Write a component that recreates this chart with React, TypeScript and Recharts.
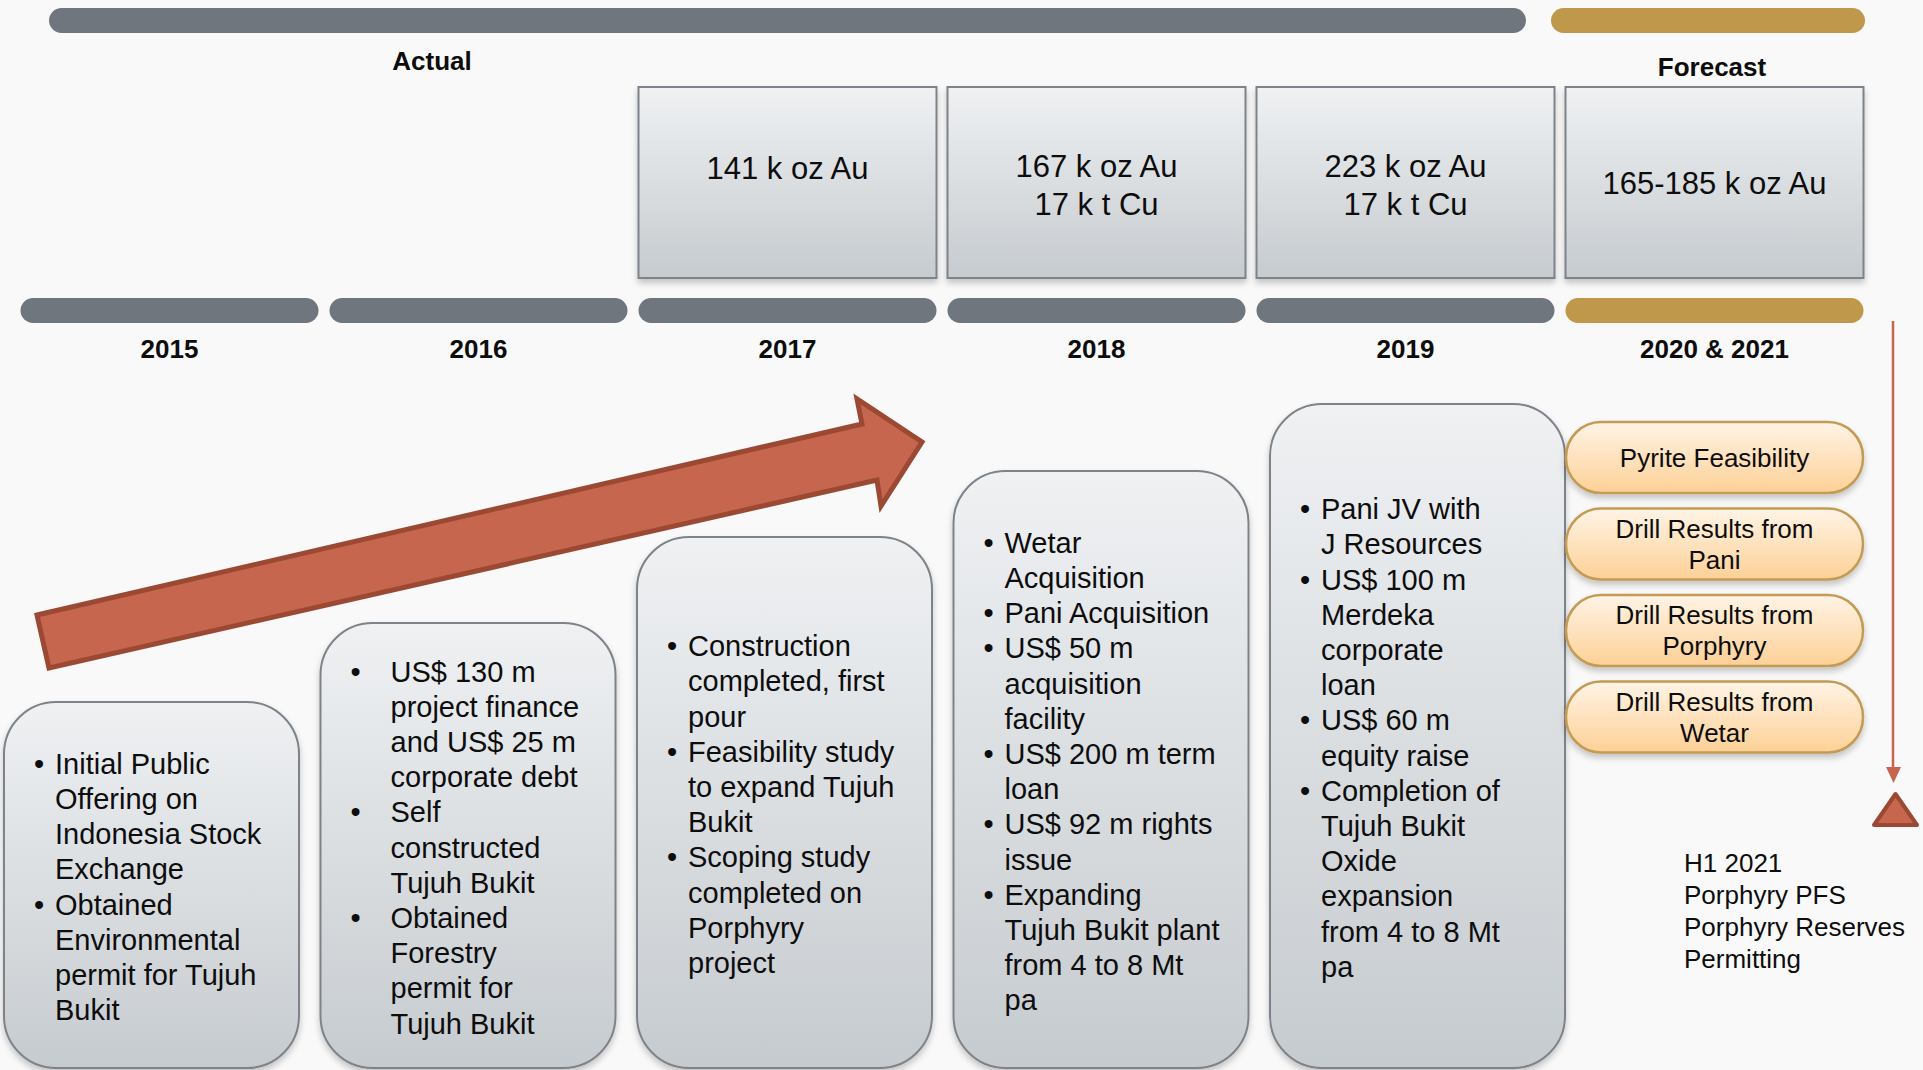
import React from 'react';
import { ComposedChart, Bar, XAxis, YAxis, Customized } from 'recharts';

// timeline columns
const years = ['2015', '2016', '2017', '2018', '2019', '2020 & 2021'];
// production per year (k oz Au / k t Cu)
const goldOz = [null, null, '141', '167', '223', '165-185'];
const copperT = [null, null, null, '17', '17', null];
// milestone box heights (rising steps)
const boxHeights = [367, 446, 532, 598, 665, null];

const milestones: string[][][] = [
  [
    ['Initial Public', 'Offering on', 'Indonesia Stock', 'Exchange'],
    ['Obtained', 'Environmental', 'permit for Tujuh', 'Bukit'],
  ],
  [
    ['US$ 130 m', 'project finance', 'and US$ 25 m', 'corporate debt'],
    ['Self', 'constructed', 'Tujuh Bukit'],
    ['Obtained', 'Forestry', 'permit for', 'Tujuh Bukit'],
  ],
  [
    ['Construction', 'completed, first', 'pour'],
    ['Feasibility study', 'to expand Tujuh', 'Bukit'],
    ['Scoping study', 'completed on', 'Porphyry', 'project'],
  ],
  [
    ['Wetar', 'Acquisition'],
    ['Pani Acquisition'],
    ['US$ 50 m', 'acquisition', 'facility'],
    ['US$ 200 m term', 'loan'],
    ['US$ 92 m rights', 'issue'],
    ['Expanding', 'Tujuh Bukit plant', 'from 4 to 8 Mt', 'pa'],
  ],
  [
    ['Pani JV with', 'J Resources'],
    ['US$ 100 m', 'Merdeka', 'corporate', 'loan'],
    ['US$ 60 m', 'equity raise'],
    ['Completion of', 'Tujuh Bukit', 'Oxide', 'expansion', 'from 4 to 8 Mt', 'pa'],
  ],
  [],
];

const forecastItems = [
  ['Pyrite Feasibility'],
  ['Drill Results from', 'Pani'],
  ['Drill Results from', 'Porphyry'],
  ['Drill Results from', 'Wetar'],
];
const forecastNotes = ['H1 2021', 'Porphyry PFS', 'Porphyry Reserves', 'Permitting'];

const wideIndent = ['2016'];

const FONT = '"Liberation Sans", Arial, Helvetica, sans-serif';
const GREY = '#6f767e';
const GOLD = '#bf984c';
const RED = '#c6664f';
const RED_DARK = '#9c4934';
const INK = '#0d0d0d';

const data = years.map((year, i) => ({
  year,
  step: boxHeights[i],
}));

const Decor = () => (
  <g>
    <defs>
      <linearGradient id="boxGrad" x1="0" y1="0" x2="0" y2="1">
        <stop offset="0%" stopColor="#eff1f3" />
        <stop offset="100%" stopColor="#c6cbcf" />
      </linearGradient>
      <linearGradient id="pillGrad" x1="0" y1="0" x2="0" y2="1">
        <stop offset="0%" stopColor="#fff4e6" />
        <stop offset="100%" stopColor="#fdd096" />
      </linearGradient>
      <filter id="shadow" x="-10%" y="-10%" width="120%" height="130%">
        <feDropShadow dx="0" dy="4" stdDeviation="3" floodColor="#000" floodOpacity="0.22" />
      </filter>
    </defs>
    <rect x={49} y={8} width={1477} height={25} rx={12.5} fill={GREY} />
    <rect x={1551} y={8} width={314} height={25} rx={12.5} fill={GOLD} />
    <text x={432} y={70} textAnchor="middle" fontFamily={FONT} fontWeight="bold" fontSize={26} fill={INK}>
      Actual
    </text>
    <text x={1712} y={76} textAnchor="middle" fontFamily={FONT} fontWeight="bold" fontSize={26} fill={INK}>
      Forecast
    </text>
    <polygon
      points="37,615 862,424 857,399 922,442 881,506 877,480 49,668"
      fill={RED}
      stroke={RED_DARK}
      strokeWidth={5}
    />
  </g>
);

const ForecastColumn = ({ cx }: { cx: number }) => {
  const w = 297;
  return (
    <g>
      {forecastItems.map((lines, k) => {
        const top = 422 + k * 86.5;
        const h = 71;
        const mid = top + h / 2;
        return (
          <g key={k}>
            <rect
              x={cx - w / 2}
              y={top}
              width={w}
              height={h}
              rx={35}
              fill="url(#pillGrad)"
              stroke="#c39b55"
              strokeWidth={2.5}
              filter="url(#shadow)"
            />
            {lines.map((t, j) => (
              <text
                key={j}
                x={cx}
                y={mid + (j - (lines.length - 1) / 2) * 31 + 9}
                textAnchor="middle"
                fontFamily={FONT}
                fontSize={26}
                fill={INK}
              >
                {t}
              </text>
            ))}
          </g>
        );
      })}
      <line x1={1893} y1={321} x2={1893} y2={770} stroke={RED} strokeWidth={2.5} />
      <polygon points="1886,767 1901,767 1893.5,783" fill={RED} />
      <polygon points="1895.5,794 1917,825 1874,825" fill={RED} stroke={RED_DARK} strokeWidth={4} strokeLinejoin="round" />
      {forecastNotes.map((t, k) => (
        <text key={k} x={1684} y={872 + k * 32} fontFamily={FONT} fontSize={26} fill={INK}>
          {t}
        </text>
      ))}
    </g>
  );
};

const YearTick = (props: any) => {
  const { x, payload } = props;
  const i = years.indexOf(payload.value);
  const forecast = i === years.length - 1;
  const w = 298;
  const au = goldOz[i];
  const cu = copperT[i];
  return (
    <g>
      {au && (
        <g>
          <rect
            x={x - w / 2}
            y={87}
            width={w}
            height={191}
            fill="url(#boxGrad)"
            stroke="#7d8389"
            strokeWidth={2}
            filter="url(#shadow)"
          />
          {cu ? (
            <>
              <text x={x} y={177} textAnchor="middle" fontFamily={FONT} fontSize={31} fill={INK}>
                {au} k oz Au
              </text>
              <text x={x} y={215} textAnchor="middle" fontFamily={FONT} fontSize={31} fill={INK}>
                {cu} k t Cu
              </text>
            </>
          ) : (
            <text x={x} y={forecast ? 194 : 179} textAnchor="middle" fontFamily={FONT} fontSize={31} fill={INK}>
              {au} k oz Au
            </text>
          )}
        </g>
      )}
      <rect x={x - w / 2} y={298} width={w} height={25} rx={12.5} fill={forecast ? GOLD : GREY} />
      <text x={x} y={358} textAnchor="middle" fontFamily={FONT} fontWeight="bold" fontSize={26} fill={INK}>
        {payload.value}
      </text>
      {forecast && <ForecastColumn cx={x} />}
    </g>
  );
};

const MilestoneBox = (props: any) => {
  const { x, y, width, height, payload } = props;
  if (!payload || height == null) return null;
  const i = years.indexOf(payload.year);
  const lines = (milestones[i] || []).flatMap((b) => b.map((t, k) => ({ t, bullet: k === 0 })));
  const bottom = y + height - 1;
  const mid = (y + bottom) / 2 + 2;
  const lh = 35.2;
  const first = mid - ((lines.length - 1) * lh) / 2;
  const indent = wideIndent.includes(payload.year) ? 71 : 52;
  return (
    <g>
      <rect
        x={x + 1}
        y={y}
        width={width - 2}
        height={bottom - y}
        rx={52}
        fill="url(#boxGrad)"
        stroke="#7d8389"
        strokeWidth={2}
        filter="url(#shadow)"
      />
      {lines.map((l, k) => (
        <g key={k}>
          {l.bullet && (
            <text x={x + 31} y={first + k * lh + 10} fontFamily={FONT} fontSize={29} fill={INK}>
              •
            </text>
          )}
          <text x={x + indent} y={first + k * lh + 10} fontFamily={FONT} fontSize={29} fill={INK}>
            {l.t}
          </text>
        </g>
      ))}
    </g>
  );
};

export default function App() {
  return (
    <div style={{ position: 'absolute', left: 0, top: 0, width: 1923, height: 1070, background: '#f9f9f9' }}>
      <ComposedChart width={1923} height={1070} data={data} margin={{ top: 0, right: 31, left: -7, bottom: 0 }}>
        <Customized component={<Decor />} />
        <XAxis
          xAxisId="years"
          dataKey="year"
          height={1}
          padding={{ left: 22, right: 23 }}
          axisLine={false}
          tickLine={false}
          interval={0}
          tick={<YearTick />}
        />
        <XAxis xAxisId="steps" dataKey="year" hide />
        <YAxis type="number" domain={[0, 1069]} hide />
        <Bar xAxisId="steps" dataKey="step" barSize={297} shape={<MilestoneBox />} isAnimationActive={false} />
      </ComposedChart>
    </div>
  );
}
